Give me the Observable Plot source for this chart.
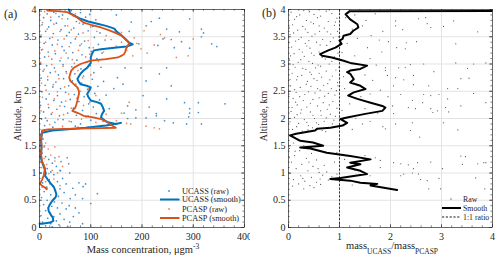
<!DOCTYPE html>
<html><head><meta charset="utf-8">
<script src="https://cdn.jsdelivr.net/npm/d3@7"></script>
<script src="https://cdn.jsdelivr.net/npm/@observablehq/plot@0.6"></script>
<style>
body{margin:0;background:#fff;}
#wrap{display:flex;width:500px;height:261px;overflow:hidden;}
svg{display:block;}
svg text, svg tspan{font-family:"Liberation Serif","Times New Roman",serif !important;}
</style></head>
<body><div id="wrap"></div>
<script>
// ---------- DATA (x, altitude km) ----------
const ucassSmooth = [[57,4.0],[60,3.93],[70,3.88],[80,3.83],[95,3.78],[113,3.74],[130,3.7],[146,3.65],[150,3.6],[158,3.54],[165,3.48],[175,3.39],[182,3.36],[170,3.32],[146,3.3],[120,3.27],[106,3.25],[102,3.18],[100,3.12],[100,3.02],[93,2.93],[86,2.88],[80,2.82],[74,2.73],[76,2.68],[80,2.63],[92,2.6],[100,2.57],[97,2.51],[93,2.45],[95,2.4],[100,2.33],[112,2.3],[120,2.27],[124,2.2],[126,2.14],[122,2.08],[120,2.02],[128,1.96],[133,1.93],[149,1.9],[159,1.92],[130,1.87],[90,1.83],[50,1.8],[25,1.78],[5,1.74],[3,1.6],[4,1.45],[2,1.3],[5,1.2],[9,1.1],[12,1.0],[11,0.95],[16,0.88],[21,0.82],[28,0.74],[31,0.67],[33,0.6],[31,0.55],[25,0.49],[20,0.42],[17,0.36],[18,0.3],[21,0.25],[26,0.18],[27,0.12],[21,0.09],[5,0.07],[0,0.07]];
const pcaspSmooth = [[15,3.98],[35,3.97],[54,3.95],[65,3.9],[74,3.85],[86,3.76],[100,3.72],[120,3.67],[135,3.62],[146,3.58],[158,3.53],[165,3.48],[175,3.39],[172,3.33],[169,3.28],[167,3.22],[165,3.18],[153,3.12],[130,3.09],[100,3.06],[80,3.0],[67,2.93],[62,2.88],[60,2.82],[58,2.75],[60,2.69],[68,2.62],[74,2.57],[77,2.5],[77,2.45],[75,2.38],[74,2.33],[72,2.26],[70,2.2],[64,2.14],[75,2.1],[86,2.05],[105,2.02],[120,1.99],[133,1.93],[140,1.88],[149,1.83],[100,1.82],[50,1.81],[17,1.8],[5,1.78],[3,1.65],[4,1.5],[3,1.35],[5,1.22],[8,1.15],[11,1.08],[9,1.0],[8,0.95],[5,0.88],[2,0.82],[1,0.8],[6,0.76],[11,0.73],[14,0.7]];
const ucassRaw = [[3,3.97],[15,3.92],[28,3.95],[45,3.9],[62,3.98],[80,3.94],[98,3.91],[8,3.85],[22,3.8],[38,3.87],[55,3.83],[72,3.78],[90,3.86],[110,3.81],[5,3.72],[18,3.68],[33,3.75],[50,3.7],[67,3.66],[85,3.73],[104,3.69],[12,3.6],[27,3.56],[42,3.63],[58,3.58],[76,3.55],[95,3.61],[118,3.57],[2,3.5],[20,3.47],[36,3.44],[53,3.52],[70,3.46],[88,3.42],[107,3.49],[128,3.44],[9,3.38],[25,3.35],[44,3.32],[61,3.39],[79,3.34],[97,3.3],[115,3.36],[4,3.26],[17,3.22],[31,3.19],[48,3.25],[65,3.21],[83,3.17],[101,3.23],[122,3.2],[10,3.13],[24,3.09],[40,3.06],[56,3.11],[73,3.07],[92,3.03],[112,3.1],[1,3.0],[14,2.97],[29,2.93],[46,2.99],[63,2.95],[81,2.91],[99,2.97],[120,2.94],[7,2.87],[21,2.84],[37,2.8],[52,2.86],[69,2.82],[86,2.78],[106,2.84],[3,2.74],[16,2.71],[32,2.67],[47,2.73],[64,2.69],[82,2.65],[103,2.72],[125,2.68],[11,2.61],[26,2.58],[41,2.55],[57,2.6],[74,2.56],[94,2.53],[114,2.59],[5,2.49],[19,2.45],[35,2.42],[51,2.48],[68,2.44],[87,2.4],[108,2.46],[130,2.43],[13,2.36],[28,2.33],[43,2.3],[60,2.35],[77,2.31],[96,2.27],[117,2.34],[2,2.24],[18,2.2],[34,2.17],[49,2.22],[66,2.19],[84,2.15],[105,2.21],[136,2.18],[8,2.12],[23,2.08],[39,2.05],[55,2.1],[72,2.06],[91,2.03],[111,2.09],[4,1.99],[15,1.96],[30,1.93],[46,1.98],[62,1.94],[80,1.9],[100,1.97],[124,1.95],[10,1.87],[26,1.84],[45,1.82],[70,1.86],[95,1.84],[140,1.88],
[234,3.84],[293,3.83],[218,3.78],[179,3.77],[208,3.7],[248,3.64],[273,3.59],[320,3.57],[316,3.5],[257,3.45],[277,3.41],[346,3.32],[263,3.3],[293,3.29],[231,3.34],[241,3.46],[194,3.37],[167,2.93],[198,2.93],[248,2.93],[208,2.69],[234,2.82],[257,2.6],[163,2.63],[202,2.42],[248,2.36],[283,2.29],[310,2.29],[362,2.27],[172,2.23],[293,2.18],[214,2.21],[228,2.09],[293,2.1],[310,2.11],[165,2.1],[188,2.16],[316,3.64],[336,3.37],[188,2.01],[244,1.96],[261,1.92],[287,1.9],[316,1.9],[208,2.01],[228,2.05],[291,2.03],[172,2.0],[150,3.9],[160,3.15],[145,2.55],[152,2.75],[175,3.6],
[2,1.7],[6,1.62],[3,1.55],[9,1.48],[1,1.42],[5,1.36],[12,1.3],[18,1.25],[4,1.22],[25,1.18],[8,1.15],[33,1.12],[15,1.08],[22,1.02],[40,1.05],[3,1.0],[28,0.97],[11,0.94],[45,0.9],[19,0.88],[35,0.84],[6,0.82],[52,0.8],[26,0.77],[14,0.74],[40,0.71],[30,0.68],[9,0.66],[48,0.64],[22,0.6],[37,0.57],[4,0.55],[60,0.53],[15,0.5],[29,0.47],[44,0.45],[8,0.42],[24,0.39],[35,0.36],[52,0.34],[12,0.31],[20,0.28],[40,0.25],[3,0.22],[28,0.2],[16,0.17],[48,0.15],[33,0.12],[6,0.1],[22,0.07],[38,0.05],[12,0.03],[55,0.02],[25,0.01],[30,1.28],[42,1.21],[65,0.72],[70,0.6],[58,0.4],[54,1.28],[57,1.17],[41,1.04],[59,1.0],[77,0.82],[90,0.8],[113,0.62],[84,0.53],[70,0.36],[77,0.27],[84,0.07],[59,0.1],[85,0.75],[100,0.44],[66,0.2]];
const pcaspRaw = [[10,3.96],[32,3.93],[50,3.99],[70,3.92],[22,3.86],[44,3.83],[66,3.88],[88,3.8],[6,3.76],[28,3.73],[55,3.7],[78,3.75],[100,3.68],[15,3.64],[40,3.6],[62,3.63],[85,3.57],[112,3.6],[130,3.52],[3,3.53],[25,3.49],[48,3.46],[72,3.5],[95,3.43],[140,3.45],[160,3.4],[12,3.4],[35,3.36],[58,3.32],[82,3.37],[105,3.3],[150,3.33],[190,3.38],[6,3.27],[30,3.24],[52,3.2],[76,3.25],[98,3.18],[125,3.22],[170,3.25],[18,3.14],[42,3.11],[64,3.08],[90,3.13],[115,3.05],[2,3.03],[24,2.99],[46,2.96],[68,3.01],[92,2.92],[9,2.9],[31,2.86],[53,2.83],[75,2.88],[100,2.8],[16,2.77],[38,2.73],[60,2.7],[84,2.75],[4,2.65],[27,2.62],[49,2.58],[71,2.63],[95,2.55],[13,2.52],[35,2.49],[57,2.45],[80,2.5],[110,2.42],[6,2.39],[29,2.36],[51,2.32],[73,2.37],[98,2.3],[17,2.26],[40,2.23],[62,2.19],[86,2.24],[3,2.14],[25,2.11],[47,2.07],[70,2.12],[95,2.05],[130,2.08],[12,2.01],[36,1.98],[58,1.95],[82,1.99],[110,1.93],[150,1.96],[20,1.89],[45,1.86],[75,1.84],[120,1.87],[170,1.91],[178,1.9],[224,1.83],[234,1.81],[208,1.86],[300,3.46],[244,3.48],[224,3.35],[267,3.12],[290,3.15],[182,3.15],[204,3.61],[236,3.54],[198,3.28],[160,3.58],[185,3.48],[210,3.2],[175,2.3],[160,2.1],
[3,1.72],[7,1.63],[12,1.55],[17,1.44],[5,1.38],[22,1.33],[9,1.27],[30,1.22],[14,1.16],[4,1.1],[25,1.05],[18,0.99],[35,1.0],[8,0.93],[28,0.89],[12,0.84],[20,0.8],[40,0.77],[5,0.74],[15,0.72],[30,1.48],[38,1.3],[45,1.12],[10,1.5],[2,1.2],[26,0.76]];
const ratioSmooth = [[4.2,3.975],[1.2,3.97],[1.12,3.91],[1.21,3.82],[1.35,3.73],[1.37,3.67],[1.27,3.61],[1.21,3.55],[1.08,3.52],[1.06,3.46],[1.0,3.43],[1.04,3.37],[0.92,3.3],[0.78,3.25],[0.62,3.18],[0.66,3.15],[0.85,3.12],[1.08,3.06],[1.21,3.02],[1.54,2.97],[1.41,2.91],[1.21,2.88],[1.15,2.85],[1.21,2.82],[1.28,2.72],[1.21,2.66],[1.41,2.6],[1.51,2.54],[1.28,2.48],[1.17,2.42],[1.35,2.36],[1.61,2.29],[1.84,2.23],[1.9,2.2],[1.84,2.14],[1.48,2.08],[1.15,2.02],[1.02,1.99],[1.15,1.92],[1.06,1.87],[0.82,1.83],[0.56,1.81],[0.52,1.78],[0.15,1.72],[0.03,1.69],[0.23,1.59],[0.48,1.56],[0.68,1.5],[0.23,1.47],[0.43,1.45],[0.75,1.37],[1.21,1.31],[1.61,1.25],[1.21,1.19],[1.41,1.16],[1.15,1.1],[1.41,1.04],[1.54,0.98],[1.02,0.91],[0.82,0.89],[1.21,0.86],[1.41,0.82],[1.74,0.8],[1.61,0.77],[1.87,0.73],[2.13,0.69]];
const ratioRaw = [[0.05,3.95],[0.22,3.9],[0.41,3.96],[0.63,3.88],[0.85,3.93],[0.12,3.82],[0.35,3.8],[0.57,3.85],[0.78,3.78],[0.95,3.84],[0.08,3.72],[0.28,3.69],[0.49,3.74],[0.7,3.66],[0.9,3.71],[0.18,3.62],[0.38,3.58],[0.61,3.6],[0.83,3.55],[0.03,3.54],[0.25,3.49],[0.46,3.51],[0.67,3.45],[0.88,3.48],[0.14,3.42],[0.33,3.38],[0.55,3.4],[0.75,3.34],[0.06,3.31],[0.21,3.27],[0.42,3.29],[0.6,3.22],[0.97,3.2],[0.11,3.19],[0.31,3.14],[0.5,3.16],[0.72,3.09],[0.9,3.13],[0.02,3.07],[0.19,3.03],[0.4,3.05],[0.58,2.98],[0.8,3.0],[0.13,2.94],[0.34,2.9],[0.53,2.93],[0.74,2.87],[0.93,2.89],[0.07,2.83],[0.26,2.79],[0.45,2.81],[0.65,2.76],[0.86,2.78],[0.16,2.71],[0.37,2.68],[0.56,2.7],[0.77,2.64],[0.96,2.66],[0.04,2.6],[0.23,2.57],[0.44,2.59],[0.62,2.52],[0.84,2.55],[0.15,2.48],[0.32,2.44],[0.52,2.47],[0.71,2.41],[0.91,2.43],[0.09,2.37],[0.29,2.33],[0.48,2.35],[0.68,2.29],[0.87,2.31],[0.17,2.25],[0.36,2.21],[0.57,2.23],[0.76,2.17],[0.95,2.19],[0.05,2.13],[0.24,2.1],[0.43,2.12],[0.64,2.06],[0.82,2.08],[0.12,2.02],[0.31,1.98],[0.51,2.0],[0.7,1.95],[0.89,1.97],[0.2,1.91],[0.39,1.87],[0.59,1.89],[0.79,1.84],[0.08,1.8],[0.27,1.77],[0.47,1.83],[0.66,1.78],
[0.3,3.98],[0.74,3.97],[0.16,3.87],[0.5,3.91],[0.92,3.77],[0.44,3.77],[0.02,3.66],[0.6,3.7],[0.33,3.64],[0.76,3.59],[0.1,3.57],[0.52,3.55],[0.96,3.6],[0.2,3.45],[0.4,3.43],[0.82,3.41],[0.62,3.35],[0.01,3.39],[0.36,3.33],[0.27,3.22],[0.8,3.26],[0.45,3.2],[0.66,3.12],[0.04,3.15],[0.24,3.08],[0.85,3.05],[0.47,3.01],[0.63,2.96],[0.09,2.99],[0.28,2.92],[0.42,2.85],[0.99,2.94],[0.6,2.83],[0.18,2.77],[0.81,2.71],[0.5,2.73],[0.03,2.72],[0.35,2.63],[0.69,2.61],[0.12,2.53],[0.57,2.55],[0.94,2.51],[0.39,2.49],[0.78,2.46],[0.22,2.4],[0.6,2.38],[0.01,2.45],[0.43,2.28],[0.14,2.3],[0.8,2.25],[0.25,2.16],[0.63,2.14],[0.07,2.2],[0.48,2.06],[0.92,2.04],[0.17,2.07],[0.36,1.93],[0.74,2.01],[0.03,1.94],[0.55,1.92],[0.16,1.85],[0.86,1.9],[0.38,1.79],[0.73,1.76],[0.98,3.5],[0.97,2.6],
[1.12,3.85],[1.3,3.9],[1.52,3.8],[1.7,3.92],[1.25,3.64],[1.45,3.7],[1.62,3.52],[1.85,3.6],[1.15,3.38],[1.35,3.47],[1.55,3.3],[1.78,3.44],[1.05,3.21],[1.3,3.15],[1.6,3.1],[1.83,3.22],[1.72,2.98],[1.9,2.88],[1.5,2.8],[1.08,2.77],[1.65,2.7],[1.35,2.62],[1.8,2.52],[1.6,2.45],[1.1,2.55],[1.42,2.4],[1.2,2.27],[1.5,2.18],[1.75,2.1],[1.05,2.15],[1.32,2.0],[1.6,1.95],[1.85,1.85],[1.25,1.8],[1.45,1.9],[1.95,2.4],
[2.1,3.79],[2.1,3.7],[2.24,3.63],[2.55,3.83],[2.69,3.85],[2.72,3.74],[2.79,3.67],[3.04,3.69],[3.24,3.79],[3.71,3.59],[1.96,3.41],[2.12,3.3],[2.31,3.39],[2.51,3.41],[3.28,3.37],[2.29,3.28],[1.9,2.93],[2.16,2.93],[2.29,2.94],[2.39,2.99],[2.65,3.0],[2.85,2.86],[3.28,3.02],[3.63,3.0],[3.51,2.92],[3.87,3.02],[1.94,2.79],[2.1,2.75],[2.26,2.71],[2.45,2.79],[3.38,2.73],[3.54,2.74],[2.06,2.6],[2.45,2.62],[2.75,2.6],[3.12,2.55],[3.32,2.55],[2.2,2.44],[2.65,2.44],[2.79,2.42],[2.95,2.44],[3.63,2.46],[2.43,2.33],[2.63,2.29],[3.12,2.36],[2.04,2.23],[2.35,2.2],[2.49,2.18],[2.79,2.18],[2.92,2.14],[3.08,2.2],[3.38,2.23],[3.87,2.29],[2.06,2.09],[2.83,2.11],[3.14,2.12],[1.9,1.81],[2.1,1.9],[2.43,1.92],[2.39,1.78],[2.57,1.66],[3.04,1.92],[3.32,1.79],
[3.47,1.3],[2.79,1.2],[2.53,1.19],[2.35,1.15],[2.2,1.17],[2.06,1.19],[1.8,1.23],[2.45,1.08],[3.02,1.08],[3.41,1.16],[3.71,1.17],[3.87,1.19],[2.43,1.0],[2.2,0.95],[2.95,0.9],[2.72,0.86],[2.59,0.88],[3.67,0.91],[3.85,0.71],[2.75,0.71],[2.26,0.98],[3.83,1.19],[2.55,0.98],[3.38,1.31],[2.98,0.71],[3.97,0.71],
[0.05,1.68],[0.18,1.62],[0.1,1.55],[0.3,1.5],[0.02,1.45],[0.22,1.41],[0.45,1.36],[0.12,1.32],[0.35,1.27],[0.55,1.24],[0.06,1.2],[0.26,1.16],[0.48,1.12],[0.7,1.14],[0.15,1.08],[0.38,1.04],[0.6,1.01],[0.03,0.99],[0.24,0.95],[0.45,0.92],[0.67,0.96],[0.1,0.88],[0.32,0.85],[0.55,0.83],[0.78,0.87],[0.2,0.8],[0.42,0.77],[0.63,0.79],[0.08,0.76],[0.5,0.73],[0.3,0.71],[0.13,1.4],[0.4,1.2],[0.58,1.08],[0.75,1.02],[0.85,0.93],[0.95,0.98],[0.02,1.28],[0.28,0.9],[0.62,0.89],
[1.1,1.25],[0.9,1.2],[1.3,1.05],[1.6,0.95],[1.8,1.1],[1.25,0.78],[1.5,1.32],[0.95,1.38],[1.7,1.28]];
const massTicks = [0,100,200,300,400];
const ratioTicks = [0,1,2,3,4];
const altTicks = [0,0.5,1,1.5,2,2.5,3,3.5,4];
const legendA = ["UCASS (raw)","UCASS (smooth)","PCASP (raw)","PCASP (smooth)"];
const legendB = ["Raw","Smooth","1:1 ratio"];

// ---------- STYLE ----------
const BLUE="#0072BD", ORANGE="#D95319", AX="#262626", GRID="#e3e3e3";
const FONT="Liberation Serif, Times New Roman, serif";
const H=261, MT=9, MB=34;
const PH=H-MT-MB;

function panel({width, ml, mr, xDomain, xTicks, xMinor, marks}) {
  const PW = width-ml-mr;
  const yMinor = d3.range(0,4.0001,0.1).map(v=>+v.toFixed(2));
  return Plot.plot({
    width, height:H, marginLeft:ml, marginRight:mr, marginTop:MT, marginBottom:MB,
    style:{fontFamily:FONT, fontSize:"10px", color:AX, background:"#fff", overflow:"visible"},
    x:{domain:xDomain}, y:{domain:[0,4]},
    marks:[
      Plot.gridX(xTicks.slice(1,-1),{stroke:GRID, strokeOpacity:1}),
      Plot.gridY(altTicks.slice(1,-1),{stroke:GRID, strokeOpacity:1}),
      ...marks,
      Plot.ruleX(xMinor,{stroke:AX, strokeWidth:0.6, insetTop:PH-1.6}),
      Plot.ruleX(xMinor,{stroke:AX, strokeWidth:0.6, insetBottom:PH-1.6}),
      Plot.ruleX(xTicks,{stroke:AX, strokeWidth:0.6, insetTop:PH-3}),
      Plot.ruleX(xTicks,{stroke:AX, strokeWidth:0.6, insetBottom:PH-3}),
      Plot.ruleY(yMinor,{stroke:AX, strokeWidth:0.6, insetRight:PW-1.6}),
      Plot.ruleY(yMinor,{stroke:AX, strokeWidth:0.6, insetLeft:PW-1.6}),
      Plot.ruleY(altTicks,{stroke:AX, strokeWidth:0.6, insetRight:PW-3}),
      Plot.ruleY(altTicks,{stroke:AX, strokeWidth:0.6, insetLeft:PW-3}),
      Plot.frame({stroke:AX, strokeWidth:0.7}),
      Plot.axisX({ticks:xTicks, tickSize:0, tickPadding:5, label:null, fontSize:10, tickFormat:d=>String(d)}),
      Plot.axisY({ticks:altTicks, tickSize:0, tickPadding:3, label:null, fontSize:10, tickFormat:d=>String(d)})
    ]
  });
}

const xy = {x:d=>d[0], y:d=>d[1]};

const svgA = panel({
  width:250, ml:39, mr:6, xDomain:[0,400], xTicks:massTicks,
  xMinor:d3.range(0,401,20),
  marks:[
    Plot.dot(ucassRaw,{...xy, r:0.85, fill:"#3d8fd1", stroke:null}),
    Plot.dot(pcaspRaw,{...xy, r:0.85, fill:"#e8875e", stroke:null}),
    Plot.line(ucassSmooth,{...xy, stroke:BLUE, strokeWidth:2, curve:"linear"}),
    Plot.line(pcaspSmooth,{...xy, stroke:ORANGE, strokeWidth:1.8, curve:"linear"})
  ]
});
const svgB = panel({
  width:250, ml:38, mr:8, xDomain:[0,4], xTicks:ratioTicks,
  xMinor:d3.range(0,4.001,0.2),
  marks:[
    Plot.dot(ratioRaw,{...xy, r:0.6, fill:"#555", stroke:null}),
    Plot.ruleX([1],{stroke:"#222", strokeWidth:0.9, strokeDasharray:"2.2,1.6"}),
    Plot.line(ratioSmooth,{...xy, stroke:"#000", strokeWidth:2, curve:"linear", clip:true})
  ]
});

const wrap = document.getElementById("wrap");
wrap.appendChild(svgA); wrap.appendChild(svgB);

function addText(svg, {x, y, text, size=10, anchor="start", rotate=0}) {
  const t = d3.select(svg).append("text")
    .attr("transform", `translate(${x},${y}) rotate(${rotate})`)
    .attr("text-anchor", anchor)
    .attr("font-size", size).attr("fill", AX);
  if (typeof text === "string") t.text(text);
  else text.forEach(([s, dy, sz]) => t.append("tspan").attr("dy", dy).attr("font-size", sz||size).text(s));
  return t;
}

addText(svgA,{x:4, y:18, text:"(a)", size:12});
addText(svgB,{x:12, y:17, text:"(b)", size:12});
addText(svgA,{x:21, y:116, text:"Altitude, km", anchor:"middle", rotate:-90});
addText(svgB,{x:17, y:116, text:"Altitude, km", anchor:"middle", rotate:-90});
addText(svgA,{x:143, y:253, anchor:"middle", size:10.5,
  text:[["Mass concentration, ",0],["\u03BC",0],["gm",0],["-3",-4,7.5]]});
addText(svgB,{x:142, y:249, anchor:"middle", size:10.5,
  text:[["mass",0],["UCASS",4.5,7.5],["/mass",-4.5],["PCASP",4.5,7.5]]});

{
  const g = d3.select(svgA).append("g").attr("text-anchor","start");
  const rows=[191,199.5,209,218];
  const cols=[BLUE,BLUE,ORANGE,ORANGE];
  legendA.forEach((lab,i)=>{
    if (i%2===0) g.append("circle").attr("cx",169).attr("cy",rows[i]).attr("r",0.9).attr("fill",i===0?"#3d8fd1":"#e8875e");
    else g.append("line").attr("x1",160).attr("x2",179.5).attr("y1",rows[i]).attr("y2",rows[i]).attr("stroke",cols[i]).attr("stroke-width",2);
    g.append("text").attr("x",182).attr("y",rows[i]).attr("dy","0.35em").attr("text-anchor","start").attr("font-size",8.3).attr("fill",AX).text(lab);
  });
}
{
  const g = d3.select(svgB).append("g").attr("text-anchor","start");
  const rows=[199,208,217];
  legendB.forEach((lab,i)=>{
    if (i===0) g.append("circle").attr("cx",201).attr("cy",rows[i]).attr("r",0.7).attr("fill","#555");
    else g.append("line").attr("x1",192).attr("x2",211).attr("y1",rows[i]).attr("y2",rows[i])
      .attr("stroke","#000").attr("stroke-width",i===1?2:0.9).attr("stroke-dasharray",i===2?"2.2,1.6":null);
    g.append("text").attr("x",213).attr("y",rows[i]).attr("dy","0.35em").attr("text-anchor","start").attr("font-size",7.8).attr("fill",AX).text(lab);
  });
}
</script></body></html>
